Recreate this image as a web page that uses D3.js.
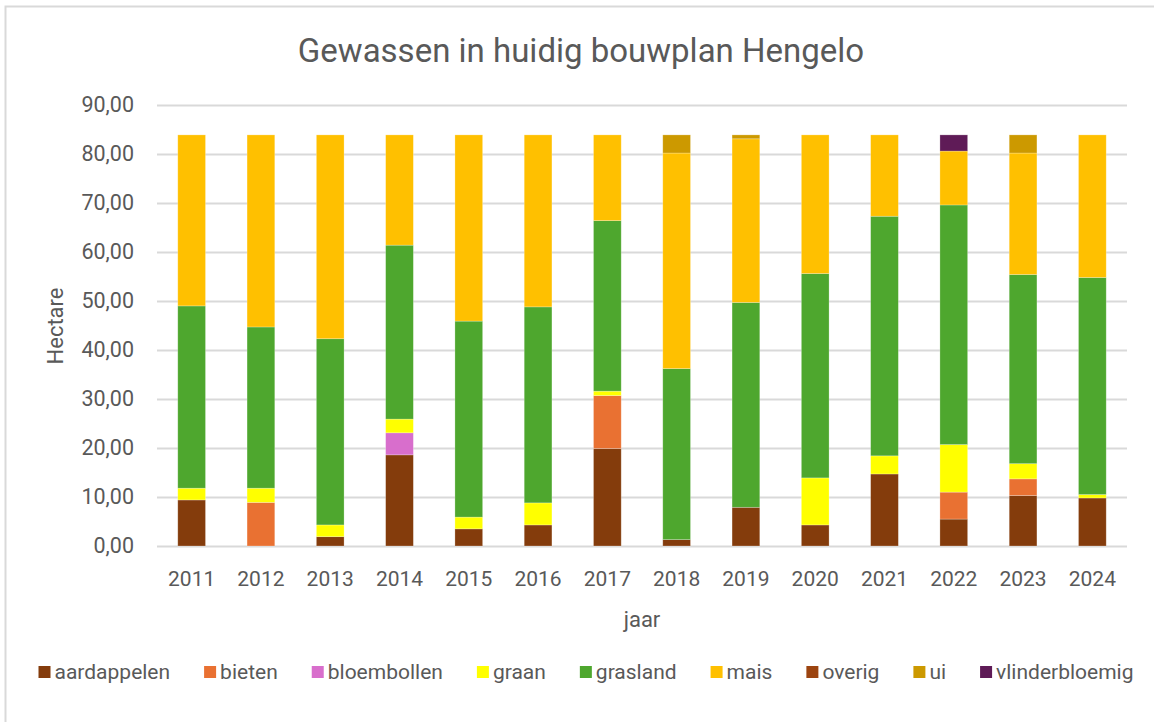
<!DOCTYPE html>
<html>
<head>
<meta charset="utf-8">
<script src="https://d3js.org/d3.v7.min.js"></script>
<style>
  body { margin: 0; background: #fff; }
  text { font-family: Roboto, "Liberation Sans", sans-serif; fill: #595959; }
  .grid line { stroke: #d9d9d9; stroke-width: 2px; }
  .grid .domain { stroke: none; }
</style>
</head>
<body>
<svg id="chart" width="1154" height="722"></svg>
<script>
  // data (hectare per gewas per jaar)
  const years = ["2011","2012","2013","2014","2015","2016","2017","2018","2019","2020","2021","2022","2023","2024"];
  const crops = ["aardappelen","bieten","bloembollen","graan","grasland","mais","overig","ui","vlinderbloemig"];
  const colors = ["#843C0C","#E97132","#D86ECC","#FFFF00","#4EA72E","#FFC000","#9C4410","#CC9900","#5F1B57"];

  const aardappelen    = [9.4, 0,   1.9, 18.6, 3.5, 4.3, 19.9, 1.3, 7.9, 4.3, 14.7, 5.5, 10.3, 9.8];
  const bieten         = [0,   8.9, 0,   0,    0,   0,   10.8, 0,   0,   0,   0,    5.5, 3.4,  0];
  const bloembollen    = [0,   0,   0,   4.5,  0,   0,   0,    0,   0,   0,   0,    0,   0,    0];
  const graan          = [2.4, 2.9, 2.4, 2.8,  2.4, 4.5, 0.9,  0,   0,   9.6, 3.7,  9.7, 3.1,  0.7];
  const grasland       = [37.2,32.9,38.0,35.5, 40.0,40.0,34.8, 34.9,41.8,41.7,48.9, 48.9,38.6, 44.3];
  const mais           = [34.9,39.2,41.6,22.5, 38.0,35.1,17.5, 44.0,33.4,28.3,16.6, 11.0,24.8, 29.1];
  const overig         = [0,   0,   0,   0,    0,   0,   0,    0,   0,   0,   0,    0,   0,    0];
  const ui             = [0,   0,   0,   0,    0,   0,   0,    3.7, 0.8, 0,   0,    0,   3.7,  0];
  const vlinderbloemig = [0,   0,   0,   0,    0,   0,   0,    0,   0,   0,   0,    3.3, 0,    0];

  const yTicks = [0,10,20,30,40,50,60,70,80,90];

  const series = [aardappelen,bieten,bloembollen,graan,grasland,mais,overig,ui,vlinderbloemig];
  const table = years.map((y, i) => {
    const row = { jaar: y };
    crops.forEach((c, j) => { row[c] = series[j][i]; });
    return row;
  });

  const svg = d3.select("svg#chart");
  const margin = { top: 105, right: 27, bottom: 176, left: 157 };
  const width = +svg.attr("width");
  const height = +svg.attr("height");
  const chartWidth = width - margin.left - margin.right;
  const chartHeight = height - margin.top - margin.bottom;

  // chart border (only top and left visible)
  svg.append("rect")
    .attr("x", 5.5).attr("y", 6.5)
    .attr("width", 1300).attr("height", 900)
    .attr("fill", "none").attr("stroke", "#d9d9d9").attr("stroke-width", 2);

  const x = d3.scaleBand().domain(years).range([0, chartWidth]).paddingInner(0.6).paddingOuter(0.3);
  const y = d3.scaleLinear().domain([0, 90]).range([chartHeight, 0]);
  const color = d3.scaleOrdinal().domain(crops).range(colors);

  const g = svg.append("g").attr("transform", "translate(" + margin.left + "," + margin.top + ")");

  g.append("g").attr("class", "grid")
    .call(d3.axisLeft(y).tickValues(yTicks).tickSize(-chartWidth).tickFormat(""));

  g.append("g")
    .call(d3.axisLeft(y).tickValues(yTicks).tickSize(0).tickPadding(23)
      .tickFormat(d => d3.format(".2f")(d).replace(".", ",")))
    .call(a => a.select(".domain").remove())
    .selectAll("text").style("font-size", "21.5px").style("fill", "#595959");

  g.append("g")
    .attr("transform", "translate(0," + chartHeight + ")")
    .call(d3.axisBottom(x).tickSize(0).tickPadding(25))
    .call(a => a.select(".domain").remove())
    .selectAll("text").style("font-size", "21px").style("fill", "#595959");

  const stacked = d3.stack().keys(crops)(table);

  g.selectAll("g.layer").data(stacked).join("g")
    .attr("class", "layer")
    .attr("fill", d => color(d.key))
    .selectAll("rect").data(d => d.filter(p => p[1] - p[0] > 0)).join("rect")
    .attr("x", d => x(d.data.jaar))
    .attr("width", x.bandwidth())
    .attr("y", d => y(d[1]))
    .attr("height", d => y(d[0]) - y(d[1]))
    .attr("stroke", "rgba(255,255,255,0.35)")
    .attr("stroke-width", 0.7);

  svg.append("text")
    .text("Gewassen in huidig bouwplan Hengelo")
    .attr("x", 581).attr("y", 62)
    .attr("text-anchor", "middle")
    .style("font-size", "33px");

  svg.append("text")
    .text("Hectare")
    .attr("transform", "translate(63,326) rotate(-90)")
    .attr("text-anchor", "middle")
    .style("font-size", "22px");

  svg.append("text")
    .text("jaar")
    .attr("x", 642).attr("y", 627)
    .attr("text-anchor", "middle")
    .style("font-size", "22px");

  // legend
  const legend = svg.append("g").attr("transform", "translate(0,672)");
  const items = legend.selectAll("g").data(crops).join("g");
  items.append("rect").attr("width", 12).attr("height", 12).attr("y", -6).attr("fill", d => color(d));
  items.append("text").text(d => d).attr("x", 16).attr("dy", "0.35em").style("font-size", "21px");
  let pos = 0;
  const gap = 34;
  items.each(function () {
    const w = 16 + this.querySelector("text").getComputedTextLength();
    d3.select(this).attr("data-x", pos);
    pos += w + gap;
  });
  const total = pos - gap;
  const start = 586 - total / 2;
  items.attr("transform", function () { return "translate(" + (start + +this.getAttribute("data-x")) + ",0)"; });
</script>
</body>
</html>
